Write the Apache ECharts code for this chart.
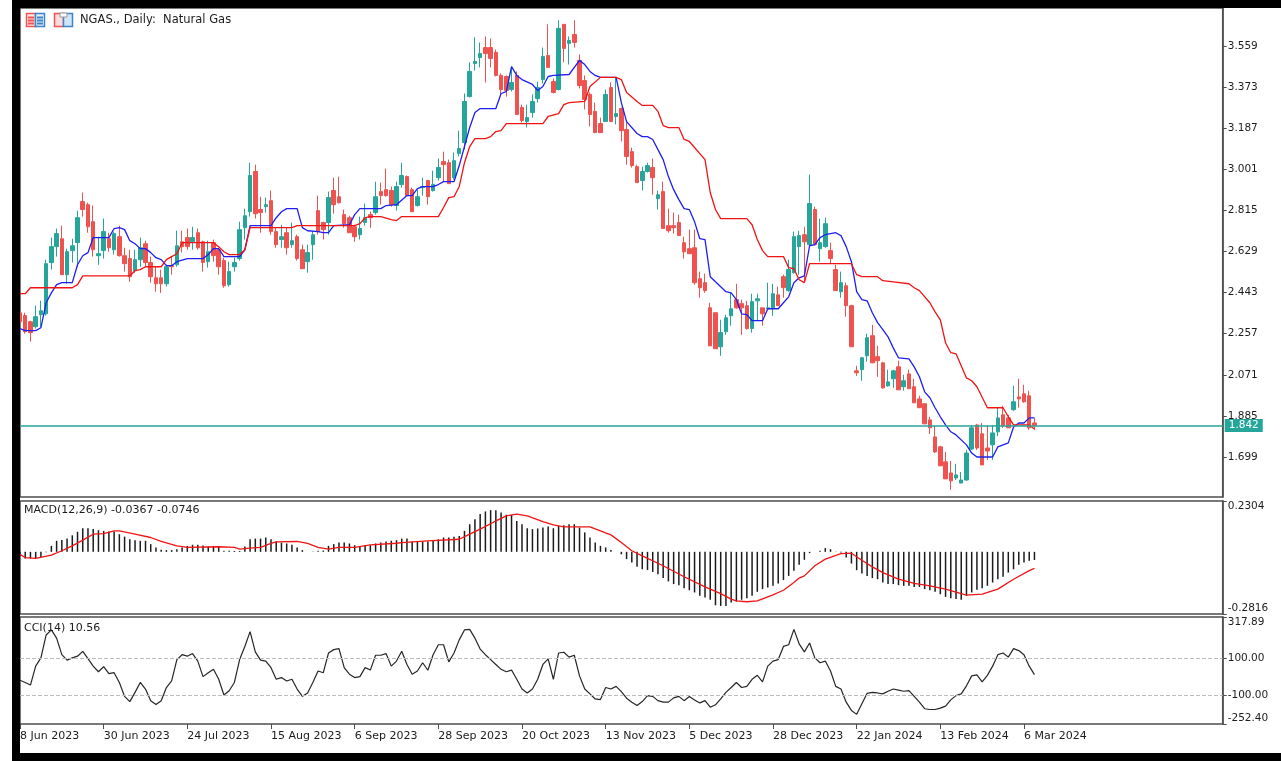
<!DOCTYPE html>
<html>
<head>
<meta charset="utf-8">
<title>NGAS., Daily</title>
<script src="https://cdn.jsdelivr.net/npm/echarts@6/dist/echarts.min.js"></script>
<style>
  html, body { margin: 0; padding: 0; background: #fff; }
  #chart { width: 1281px; height: 761px; }
</style>
</head>
<body>
<div id="chart"></div>
<script>
// daily bars
const opens = [
  2.352,2.339,2.311,2.289,2.343,2.347,2.579,2.651,2.687,2.524,
  2.633,2.669,2.855,2.841,2.764,2.610,2.633,2.687,2.637,2.696,
  2.610,2.597,2.542,2.592,2.664,2.579,2.510,2.510,2.483,2.565,
  2.569,2.673,2.692,2.673,2.714,2.673,2.583,2.669,2.637,2.588,
  2.479,2.560,2.597,2.737,2.809,2.991,2.819,2.832,2.859,2.719,
  2.683,2.714,2.660,2.696,2.637,2.583,2.660,2.814,2.760,2.760,
  2.905,2.877,2.796,2.782,2.741,2.705,2.760,2.796,2.805,2.900,
  2.909,2.905,2.837,2.932,2.968,2.909,2.837,2.918,2.950,2.905,
  2.963,3.036,3.031,2.963,3.072,3.122,3.330,3.480,3.507,3.552,
  3.552,3.530,3.426,3.421,3.362,3.426,3.281,3.217,3.258,3.321,
  3.407,3.516,3.398,3.362,3.657,3.571,3.611,3.494,3.403,3.340,
  3.263,3.208,3.217,3.371,3.240,3.276,3.181,3.081,3.013,2.950,
  2.991,3.009,2.868,2.900,2.746,2.746,2.760,2.669,2.642,2.646,
  2.506,2.488,2.374,2.352,2.198,2.266,2.338,2.411,2.393,2.384,
  2.280,2.406,2.374,2.370,2.374,2.433,2.515,2.452,2.533,2.651,
  2.705,2.660,2.819,2.642,2.651,2.633,2.547,2.447,2.474,2.384,
  2.089,2.094,2.157,2.248,2.153,2.125,2.021,2.053,2.107,2.017,
  2.075,2.017,1.962,1.940,1.867,1.790,1.745,1.677,1.627,1.604,
  1.581,1.595,1.735,1.844,1.804,1.740,1.754,1.813,1.890,1.876,
  1.913,1.971,1.985,1.976,1.853
];
const closes = [
  2.311,2.266,2.262,2.334,2.361,2.574,2.651,2.710,2.524,2.628,
  2.655,2.782,2.819,2.741,2.637,2.619,2.719,2.646,2.710,2.610,
  2.574,2.515,2.592,2.646,2.579,2.515,2.483,2.483,2.560,2.560,
  2.655,2.651,2.651,2.692,2.646,2.579,2.628,2.610,2.560,2.474,
  2.538,2.579,2.728,2.791,2.973,2.800,2.805,2.841,2.719,2.660,
  2.696,2.646,2.678,2.597,2.551,2.624,2.705,2.719,2.728,2.873,
  2.841,2.850,2.755,2.714,2.696,2.733,2.782,2.782,2.877,2.882,
  2.882,2.841,2.923,2.973,2.882,2.809,2.877,2.923,2.877,2.932,
  3.009,3.022,2.936,3.040,3.095,3.308,3.444,3.489,3.525,3.525,
  3.503,3.426,3.362,3.358,3.394,3.249,3.222,3.235,3.308,3.371,
  3.512,3.462,3.349,3.639,3.548,3.584,3.575,3.380,3.317,3.249,
  3.167,3.167,3.340,3.217,3.253,3.176,3.059,3.018,2.941,2.991,
  3.018,2.963,2.886,2.733,2.723,2.737,2.701,2.628,2.619,2.488,
  2.465,2.452,2.202,2.189,2.262,2.329,2.370,2.374,2.374,2.280,
  2.402,2.415,2.347,2.374,2.438,2.384,2.465,2.547,2.696,2.701,
  2.673,2.846,2.660,2.669,2.755,2.597,2.452,2.488,2.384,2.198,
  2.080,2.148,2.239,2.125,2.135,2.012,2.039,2.089,2.003,2.044,
  2.008,1.944,1.922,1.849,1.831,1.722,1.659,1.600,1.591,1.618,
  1.595,1.717,1.831,1.740,1.663,1.726,1.808,1.876,1.840,1.831,
  1.949,1.962,1.949,1.831,1.842
];
const lows = [
  2.289,2.257,2.221,2.280,2.289,2.339,2.547,2.606,2.524,2.483,
  2.579,2.560,2.787,2.714,2.606,2.569,2.597,2.628,2.615,2.606,
  2.538,2.492,2.533,2.560,2.560,2.488,2.447,2.442,2.470,2.524,
  2.560,2.624,2.637,2.637,2.637,2.538,2.556,2.583,2.524,2.465,
  2.470,2.538,2.588,2.683,2.787,2.778,2.714,2.805,2.705,2.646,
  2.646,2.615,2.646,2.588,2.551,2.533,2.592,2.705,2.683,2.705,
  2.800,2.846,2.737,2.714,2.673,2.683,2.746,2.737,2.796,2.841,
  2.877,2.832,2.814,2.918,2.882,2.809,2.832,2.882,2.841,2.900,
  2.950,2.945,2.936,2.954,3.059,3.090,3.326,3.448,3.462,3.394,
  3.462,3.421,3.340,3.330,3.353,3.249,3.213,3.190,3.235,3.303,
  3.389,3.462,3.344,3.358,3.485,3.475,3.552,3.367,3.272,3.195,
  3.167,3.167,3.217,3.217,3.204,3.127,3.022,3.009,2.941,2.905,
  2.986,2.886,2.819,2.733,2.714,2.710,2.701,2.597,2.619,2.479,
  2.420,2.442,2.202,2.189,2.157,2.252,2.293,2.370,2.252,2.275,
  2.262,2.316,2.293,2.370,2.338,2.384,2.420,2.447,2.529,2.524,
  2.488,2.655,2.655,2.583,2.646,2.574,2.452,2.420,2.334,2.198,
  2.066,2.044,2.130,2.125,2.062,2.008,2.017,2.012,2.003,1.999,
  2.008,1.944,1.922,1.849,1.803,1.717,1.659,1.600,1.550,1.595,
  1.581,1.591,1.731,1.731,1.663,1.686,1.686,1.794,1.831,1.831,
  1.908,1.922,1.944,1.822,1.822
];
const highs = [
  2.366,2.352,2.316,2.384,2.406,2.592,2.692,2.733,2.746,2.642,
  2.687,2.814,2.896,2.850,2.837,2.696,2.778,2.714,2.719,2.746,
  2.646,2.637,2.637,2.692,2.678,2.606,2.560,2.547,2.569,2.606,
  2.723,2.723,2.733,2.741,2.733,2.678,2.678,2.683,2.646,2.601,
  2.583,2.601,2.764,2.823,3.031,3.022,2.877,2.873,2.905,2.737,
  2.750,2.737,2.760,2.705,2.660,2.660,2.719,2.882,2.764,2.900,
  2.963,2.968,2.819,2.791,2.750,2.787,2.846,2.809,2.945,2.941,
  3.004,2.923,2.945,3.031,2.973,2.918,2.909,2.963,2.954,2.995,
  3.050,3.081,3.045,3.077,3.176,3.344,3.485,3.598,3.575,3.602,
  3.593,3.543,3.435,3.426,3.466,3.444,3.294,3.294,3.340,3.398,
  3.552,3.657,3.412,3.675,3.657,3.602,3.675,3.521,3.426,3.349,
  3.303,3.235,3.362,3.394,3.417,3.281,3.222,3.099,3.022,3.013,
  3.031,3.050,2.905,2.945,2.823,2.805,2.796,2.696,2.728,2.728,
  2.538,2.529,2.397,2.352,2.320,2.343,2.442,2.483,2.411,2.406,
  2.438,2.438,2.374,2.488,2.483,2.470,2.524,2.592,2.719,2.723,
  2.741,2.977,2.832,2.778,2.782,2.669,2.569,2.538,2.488,2.388,
  2.112,2.152,2.257,2.297,2.202,2.130,2.094,2.094,2.135,2.071,
  2.094,2.053,1.976,1.940,1.881,1.840,1.749,1.722,1.681,1.668,
  1.631,1.731,1.844,1.849,1.853,1.844,1.844,1.922,1.931,1.890,
  2.021,2.053,2.026,1.999,1.876
];

// the two moving lines, [bar index, price] at each bend
const blueLine = [
  [0,2.280],[1,2.271],[3,2.271],[4,2.284],[5,2.397],[6,2.442],[7,2.479],[8,2.488],[10,2.488],[11,2.569],
  [12,2.610],[13,2.624],[14,2.692],[17,2.692],[18,2.733],[19,2.737],[20,2.728],[21,2.678],[22,2.664],[23,2.642],
  [24,2.642],[25,2.624],[26,2.601],[27,2.592],[28,2.565],[29,2.565],[30,2.583],[32,2.597],[35,2.597],[36,2.615],
  [37,2.642],[38,2.642],[39,2.606],[42,2.606],[43,2.637],[44,2.746],[48,2.746],[49,2.782],[50,2.809],[51,2.823],
  [53,2.823],[54,2.737],[55,2.723],[57,2.719],[58,2.714],[59,2.714],[60,2.746],[63,2.750],[64,2.796],[65,2.823],
  [69,2.823],[70,2.837],[72,2.841],[74,2.882],[75,2.882],[76,2.914],[77,2.923],[79,2.923],[80,2.932],[81,2.945],
  [83,2.945],[84,3.018],[85,3.104],[86,3.190],[87,3.258],[88,3.276],[91,3.276],[92,3.344],[93,3.353],[94,3.466],
  [95,3.426],[96,3.407],[98,3.385],[99,3.358],[100,3.376],[101,3.421],[102,3.426],[105,3.430],[107,3.494],[108,3.475],
  [109,3.444],[110,3.426],[111,3.417],[114,3.417],[115,3.303],[116,3.217],[118,3.163],[119,3.149],[120,3.149],[121,3.136],
  [122,3.090],[123,3.045],[124,2.968],[125,2.909],[126,2.864],[127,2.823],[128,2.819],[129,2.764],[130,2.687],[131,2.683],
  [132,2.515],[133,2.492],[135,2.447],[136,2.442],[137,2.411],[138,2.347],[139,2.343],[140,2.316],[142,2.316],[143,2.370],
  [145,2.370],[146,2.397],[147,2.424],[148,2.488],[149,2.510],[150,2.519],[151,2.655],[152,2.660],[153,2.692],[154,2.705],
  [156,2.714],[157,2.701],[158,2.651],[159,2.583],[160,2.447],[161,2.411],[162,2.406],[163,2.352],[164,2.307],[165,2.275],
  [166,2.243],[167,2.193],[168,2.148],[170,2.143],[171,2.107],[172,2.062],[173,1.994],[174,1.967],[175,1.922],[176,1.881],
  [177,1.844],[178,1.813],[179,1.799],[181,1.754],[182,1.717],[183,1.699],[186,1.699],[187,1.745],[188,1.754],[189,1.763],
  [190,1.835],[191,1.853],[192,1.853],[193,1.876],[194,1.876]
];
const redLine = [
  [0,2.438],[1,2.438],[2,2.465],[10,2.465],[11,2.479],[12,2.519],[21,2.519],[22,2.542],[23,2.547],[24,2.560],
  [27,2.560],[28,2.592],[29,2.606],[30,2.619],[31,2.669],[37,2.669],[38,2.651],[39,2.628],[40,2.615],[42,2.615],
  [43,2.637],[44,2.737],[52,2.737],[53,2.746],[64,2.746],[65,2.755],[66,2.782],[67,2.787],[69,2.787],[71,2.773],
  [72,2.769],[73,2.787],[80,2.787],[81,2.828],[82,2.873],[83,2.877],[84,2.923],[85,3.031],[86,3.104],[87,3.140],
  [89,3.140],[90,3.149],[91,3.172],[92,3.176],[93,3.208],[100,3.208],[101,3.240],[103,3.253],[104,3.294],[105,3.303],
  [108,3.308],[109,3.376],[111,3.417],[114,3.417],[115,3.407],[116,3.349],[118,3.308],[119,3.290],[121,3.290],[122,3.263],
  [123,3.199],[124,3.190],[126,3.190],[127,3.136],[128,3.127],[131,3.045],[132,2.896],[133,2.819],[134,2.778],[139,2.778],
  [140,2.750],[141,2.683],[142,2.633],[143,2.606],[146,2.606],[147,2.556],[148,2.551],[149,2.501],[150,2.488],[151,2.574],
  [159,2.574],[160,2.524],[161,2.515],[164,2.515],[165,2.497],[167,2.492],[170,2.483],[171,2.465],[172,2.452],[174,2.397],
  [175,2.356],[176,2.320],[177,2.216],[178,2.171],[179,2.166],[181,2.057],[182,2.044],[183,2.017],[185,1.922],[188,1.922],
  [189,1.881],[190,1.844],[193,1.844],[194,1.826]
];

const macdHist = [
  -0.020,-0.030,-0.030,-0.030,-0.025,-0.002,0.027,0.050,0.054,0.060,
  0.075,0.091,0.107,0.107,0.103,0.098,0.095,0.092,0.092,0.080,
  0.069,0.057,0.053,0.050,0.050,0.035,0.020,0.009,0.008,0.008,
  0.012,0.020,0.027,0.032,0.032,0.029,0.024,0.027,0.027,0.005,
  0.005,0.004,0.004,0.024,0.057,0.060,0.060,0.065,0.057,0.047,
  0.042,0.038,0.032,0.020,0.008,0.000,0.002,0.005,0.006,0.027,
  0.035,0.042,0.042,0.038,0.030,0.027,0.030,0.030,0.038,0.042,
  0.047,0.050,0.053,0.060,0.060,0.047,0.047,0.047,0.047,0.053,
  0.057,0.065,0.065,0.068,0.072,0.095,0.125,0.148,0.171,0.183,
  0.189,0.189,0.178,0.168,0.168,0.140,0.125,0.107,0.103,0.106,
  0.110,0.115,0.107,0.118,0.121,0.125,0.125,0.110,0.088,0.065,
  0.042,0.027,0.020,0.008,0.000,-0.011,-0.033,-0.048,-0.068,-0.079,
  -0.082,-0.091,-0.101,-0.119,-0.134,-0.146,-0.151,-0.165,-0.174,-0.184,
  -0.199,-0.207,-0.217,-0.242,-0.245,-0.245,-0.230,-0.225,-0.217,-0.210,
  -0.199,-0.181,-0.169,-0.162,-0.154,-0.143,-0.128,-0.109,-0.086,-0.059,
  -0.036,-0.006,0.000,0.005,0.017,0.012,0.001,-0.003,-0.026,-0.053,
  -0.083,-0.098,-0.109,-0.119,-0.124,-0.139,-0.146,-0.146,-0.151,-0.154,
  -0.154,-0.159,-0.159,-0.169,-0.174,-0.181,-0.192,-0.204,-0.210,-0.214,
  -0.217,-0.199,-0.184,-0.172,-0.165,-0.154,-0.139,-0.124,-0.113,-0.094,
  -0.079,-0.059,-0.048,-0.040,-0.0367
];
const macdSignal = [
  [0,-0.011],[1,-0.026],[3,-0.030],[6,-0.015],[8,0.005],[10,0.027],[12,0.053],[14,0.080],[16,0.083],[18,0.095],
  [19,0.095],[22,0.080],[25,0.065],[27,0.047],[30,0.027],[32,0.020],[38,0.023],[41,0.020],[42,0.012],[44,0.017],
  [46,0.020],[48,0.038],[49,0.045],[53,0.047],[55,0.038],[57,0.020],[59,0.012],[61,0.020],[64,0.020],[67,0.032],
  [72,0.039],[73,0.042],[78,0.050],[84,0.057],[86,0.080],[88,0.103],[91,0.140],[93,0.163],[95,0.171],[97,0.163],
  [100,0.137],[102,0.122],[104,0.113],[109,0.113],[111,0.095],[113,0.077],[115,0.042],[117,0.005],[119,-0.018],[123,-0.063],
  [127,-0.113],[131,-0.159],[134,-0.189],[136,-0.214],[137,-0.222],[139,-0.226],[141,-0.222],[144,-0.195],[146,-0.174],[148,-0.139],
  [149,-0.119],[150,-0.109],[152,-0.063],[154,-0.033],[157,-0.008],[159,-0.006],[161,-0.038],[163,-0.068],[165,-0.094],[168,-0.124],
  [171,-0.143],[174,-0.154],[177,-0.169],[181,-0.196],[184,-0.192],[187,-0.169],[190,-0.124],[193,-0.085],[194,-0.0746]
];

const cciValues = [
  -19,-31,-45,56,100,222,249,205,117,88,
  100,109,135,96,56,26,53,16,21,-31,
  -105,-133,-84,-31,-66,-128,-148,-128,-58,-23,
  91,117,109,123,83,0,21,39,-14,-98,
  -75,-31,91,161,240,132,88,83,48,-14,
  -5,-23,-14,-66,-105,-87,-31,30,21,126,
  144,149,48,13,-5,0,48,35,114,114,
  123,56,83,135,65,13,30,74,34,117,
  170,170,79,126,196,249,252,205,147,117,
  91,65,39,26,35,-14,-66,-87,-66,-14,
  65,95,-14,126,130,104,114,4,-66,-92,
  -119,-122,-58,-66,-52,-80,-115,-136,-154,-133,
  -101,-105,-128,-136,-136,-113,-105,-128,-106,-124,
  -140,-128,-163,-150,-119,-84,-58,-31,-58,-52,
  -14,7,-28,56,83,91,161,170,252,175,
  132,179,100,74,83,30,-52,-66,-136,-180,
  -201,-145,-89,-84,-87,-92,-78,-66,-72,-78,
  -75,-105,-136,-171,-175,-175,-168,-157,-124,-101,
  -92,-49,4,9,-28,7,56,117,126,104,
  149,139,117,56,10.56
];

const tickLabels = [
  '8 Jun 2023','30 Jun 2023','24 Jul 2023','15 Aug 2023','6 Sep 2023','28 Sep 2023','20 Oct 2023',
  '13 Nov 2023','5 Dec 2023','28 Dec 2023','22 Jan 2024','13 Feb 2024','6 Mar 2024'
];
const priceTicks = [1.699,1.885,2.071,2.257,2.443,2.629,2.815,3.001,3.187,3.373,3.559];
const macdTicks = [-0.2816,0.2304];
const cciTicks = [-252.4,-100,100,317.89];
const lastPrice = 1.842;

const TICK_STEP = 16;
const SLOTS = 231;
const FONT = '"DejaVu Sans", sans-serif';
const TEXT = '#1c1c1c';
const FRAME = '#4d4d4d';
const UP = '#26a69a';
const DOWN = '#ef5350';

const slots = Array.from({ length: SLOTS }, (_, i) =>
  i % TICK_STEP === 0 && tickLabels[i / TICK_STEP] ? tickLabels[i / TICK_STEP] : '');
const candles = opens.map((o, i) => [o, closes[i], lows[i], highs[i]]);

const hiddenX = gridIndex => ({
  type: 'category', gridIndex, data: slots, boundaryGap: false,
  axisLine: { show: false, onZero: false }, axisTick: { show: false }, axisLabel: { show: false }, splitLine: { show: false }
});
const rightY = (gridIndex, min, max, customValues, fmt, extra) => ({
  type: 'value', gridIndex, position: 'right', min, max, scale: true,
  axisLine: { show: true, lineStyle: { color: FRAME, width: 1.5 } },
  axisTick: { show: true, length: 4, inside: false, customValues, lineStyle: { color: FRAME } },
  axisLabel: {
    show: true, customValues, formatter: fmt, margin: 5,
    color: TEXT, fontFamily: FONT, fontSize: 10.5, ...extra
  },
  splitLine: { show: false }
});
const thinLine = (name, xAxisIndex, yAxisIndex, data, color, width) => ({
  name, type: 'line', xAxisIndex, yAxisIndex, data, showSymbol: false, symbol: 'none',
  lineStyle: { color, width }, itemStyle: { color }, silent: true, z: 4
});
const pane = (top, height) => ({
  left: 20, width: 1202.7, top, height, show: true,
  borderColor: FRAME, borderWidth: 1.5, backgroundColor: '#fff'
});
const bar = (x, y, width, height, fill) => ({ type: 'rect', z: 101, shape: { x, y, width, height }, style: { fill } });
const outline = (x, fill, stroke) => ({
  type: 'rect', z: 101, shape: { x, y: 13.5, width: 9, height: 13 }, style: { fill, stroke, lineWidth: 1.5 }
});

const chart = echarts.init(document.getElementById('chart'), null, { renderer: 'canvas' });

chart.setOption({
  animation: false,
  backgroundColor: '#fff',
  grid: [pane(8, 489), pane(501, 113), pane(617, 107)],
  xAxis: [
    hiddenX(0),
    hiddenX(1),
    {
      ...hiddenX(2),
      axisTick: {
        show: true, length: 5, lineStyle: { color: FRAME },
        interval: i => i % TICK_STEP === 0 && !!slots[i]
      },
      axisLabel: {
        show: true, align: 'left', margin: 7, color: TEXT, fontFamily: FONT, fontSize: 11,
        interval: i => i % TICK_STEP === 0 && !!slots[i], showMinLabel: true, showMaxLabel: true
      }
    }
  ],
  yAxis: [
    rightY(0, 1.518, 3.731, priceTicks, v => v.toFixed(3)),
    rightY(1, -0.2816, 0.2304, macdTicks, v => v.toFixed(4), { verticalAlignMinLabel: 'bottom', verticalAlignMaxLabel: 'top' }),
    rightY(2, -252.4, 317.89, cciTicks, v => v.toFixed(2), { verticalAlignMinLabel: 'bottom', verticalAlignMaxLabel: 'top' })
  ],
  series: [
    {
      name: 'NGAS.', type: 'candlestick', xAxisIndex: 0, yAxisIndex: 0, data: candles,
      barWidth: 4, silent: true, z: 2,
      itemStyle: { color: UP, color0: DOWN, borderColor: UP, borderColor0: DOWN, borderWidth: 1 },
      markLine: {
        silent: true, symbol: 'none', animation: false, precision: 3,
        label: {
          show: true, position: 'end', formatter: lastPrice.toFixed(3), distance: 2,
          color: '#fff', backgroundColor: UP, fontFamily: FONT, fontSize: 10.5,
          padding: [1, 4, 1, 4]
        },
        data: [{ yAxis: lastPrice, lineStyle: { color: UP, type: 'solid', width: 1.5, opacity: 1 } }]
      }
    },
    thinLine('Fast', 0, 0, blueLine, '#1f1ff0', 1.3),
    thinLine('Slow', 0, 0, redLine, '#f01414', 1.3),
    {
      name: 'MACD', type: 'bar', xAxisIndex: 1, yAxisIndex: 1, data: macdHist,
      barWidth: 1.5, silent: true, itemStyle: { color: '#1c1c1c' }
    },
    thinLine('Signal', 1, 1, macdSignal, '#f01414', 1.3),
    {
      ...thinLine('CCI', 2, 2, cciValues, '#262626', 1.2),
      markLine: {
        silent: true, symbol: 'none', animation: false, label: { show: false },
        lineStyle: { color: '#bdbdbd', type: 'dashed', width: 1 },
        data: [{ yAxis: 100 }, { yAxis: -100 }]
      }
    }
  ],
  graphic: [
    // window frame around the terminal picture
    bar(12, 0, 1269, 8, '#000'),
    bar(12, 0, 8, 761, '#000'),
    bar(12, 753, 1269, 8, '#000'),
    // toolbar icons beside the title
    outline(26.5, '#fde8e8', '#ef5350'),
    outline(35.5, '#e3f0fa', '#3d85c6'),
    bar(28, 16.5, 6, 2, '#ef5350'), bar(28, 19.5, 6, 2, '#ef5350'), bar(28, 22.5, 6, 2, '#ef5350'),
    bar(37, 16.5, 6, 2, '#3d85c6'), bar(37, 19.5, 6, 2, '#3d85c6'), bar(37, 22.5, 6, 2, '#3d85c6'),
    outline(54.5, '#fbdcdc', '#ef5350'),
    outline(63.5, '#cfe6f7', '#3d85c6'),
    { type: 'rect', z: 102, shape: { x: 60, y: 13, width: 7, height: 4 }, style: { fill: '#fff', stroke: '#999' } },
    // pane captions
    { type: 'text', z: 101, x: 80, y: 14, style: { text: 'NGAS., Daily:  Natural Gas', fill: TEXT, font: '11.5px ' + FONT } },
    { type: 'text', z: 101, x: 24, y: 505, style: { text: 'MACD(12,26,9) -0.0367 -0.0746', fill: TEXT, font: '11px ' + FONT } },
    { type: 'text', z: 101, x: 24, y: 623, style: { text: 'CCI(14) 10.56', fill: TEXT, font: '11px ' + FONT } }
  ]
});
</script>
</body>
</html>
